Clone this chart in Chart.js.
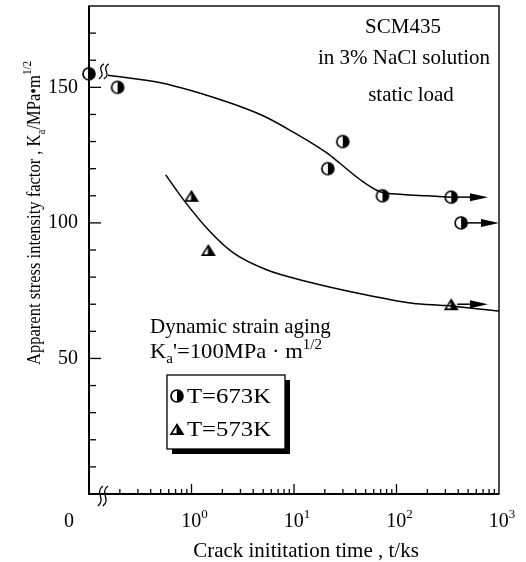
<!DOCTYPE html>
<html>
<head>
<meta charset="utf-8">
<script src="https://cdn.jsdelivr.net/npm/chart.js@4.4.0/dist/chart.umd.min.js"></script>
<style>
html, body { margin: 0; padding: 0; background: #fff; }
#wrap { width: 526px; height: 562px; }
</style>
</head>
<body>
<div id="wrap"><canvas id="myChart" width="526" height="562"></canvas></div>
<script>
// T=673K data (the t=0 point sits on the left axis, drawn at 0.1)
const t673 = [0.1, 0.19, 21.4, 29.9, 73, 342, 427];
const ka673 = [155, 150, 120, 130, 110, 109.5, 100];
// T=573K data
const t573 = [1.0, 1.46, 342];
const ka573 = [110, 90, 70];
// run-out arrows: from t, to t, at Ka
const arrowFrom = [342, 427, 342];
const arrowTo = [780, 1000, 780];
const arrowKa = [109.5, 100, 70];

// fitted curves
const fit673T = [0.153, 0.5, 2.24, 5, 9.8, 20.9, 28, 44, 68, 115, 200, 342];
const fit673K = [154.5, 151.7, 144.6, 139.5, 133.5, 125.8, 122, 116, 111.6, 110.5, 110, 109.5];
const fit573T = [0.56, 0.84, 1.53, 2.56, 5.47, 13, 47, 143, 300, 1000];
const fit573K = [117.7, 108.4, 96.6, 88.9, 82.6, 78.5, 73.7, 70.4, 69.5, 67.5];

// axis ticks
const xMajor = [1, 10, 100, 1000];
const xExp = ['0', '1', '2', '3'];
const yMajor = [50, 100, 150];

const FONT = '"Liberation Serif", "Times New Roman", serif';

function pairs(xs, ys) {
  return xs.map((x, i) => ({x: x, y: ys[i]}));
}

// half filled circle marker
function makeCircle() {
  const c = document.createElement('canvas');
  c.width = 16; c.height = 16;
  const g = c.getContext('2d');
  g.beginPath(); g.arc(8, 8, 6, 0, 2 * Math.PI);
  g.fillStyle = '#fff'; g.fill();
  g.beginPath(); g.arc(8, 8, 6, -Math.PI / 2, Math.PI / 2); g.closePath();
  g.fillStyle = '#000'; g.fill();
  g.beginPath(); g.arc(8, 8, 6, 0, 2 * Math.PI);
  g.lineWidth = 1.7; g.strokeStyle = '#000'; g.stroke();
  return c;
}

// half filled triangle marker
function makeTriangle() {
  const c = document.createElement('canvas');
  c.width = 18; c.height = 14;
  const g = c.getContext('2d');
  g.beginPath(); g.moveTo(9, 1); g.lineTo(16.5, 13); g.lineTo(1.5, 13); g.closePath();
  g.fillStyle = '#000'; g.fill();
  g.beginPath(); g.moveTo(8.5, 4.8); g.lineTo(8.5, 11.2); g.lineTo(4.5, 11.2); g.closePath();
  g.fillStyle = '#fff'; g.fill();
  return c;
}

const circleImg = makeCircle();
const triImg = makeTriangle();

// text with sub/superscripts: parts = [[text, kind]], kind '', 'sub', 'sup'
function richWidth(ctx, parts, size) {
  const small = Math.round(size * 0.66);
  let total = 0;
  parts.forEach(p => {
    ctx.font = (p[1] ? small : size) + 'px ' + FONT;
    total += ctx.measureText(p[0]).width;
  });
  return total;
}

function rich(ctx, parts, x, y, align, size) {
  const small = Math.round(size * 0.66);
  const total = richWidth(ctx, parts, size);
  let cx = align === 'center' ? x - total / 2 : (align === 'right' ? x - total : x);
  ctx.textAlign = 'left';
  parts.forEach(p => {
    ctx.font = (p[1] ? small : size) + 'px ' + FONT;
    let dy = 0;
    if (p[1] === 'sub') dy = size * 0.25;
    if (p[1] === 'sup') dy = -size * 0.45;
    ctx.fillText(p[0], cx, y + dy);
    cx += ctx.measureText(p[0]).width;
  });
}

// rich text squeezed/stretched to a given width
function richFit(ctx, parts, x, y, align, size, width) {
  const total = richWidth(ctx, parts, size);
  ctx.save();
  ctx.translate(x, y);
  ctx.scale(width / total, 1);
  rich(ctx, parts, 0, 0, align, size);
  ctx.restore();
}

function wiggle(ctx, x, y, h) {
  ctx.beginPath();
  ctx.moveTo(x + 2.5, y - h / 2);
  ctx.bezierCurveTo(x - 6, y - h / 6, x + 6, y + h / 6, x - 2.5, y + h / 2);
  ctx.stroke();
}

const decor = {
  id: 'decor',
  afterDatasetsDraw(chart) {
    const ctx = chart.ctx;
    const a = chart.chartArea;
    const xs = chart.scales.x, ys = chart.scales.y;
    ctx.save();
    ctx.strokeStyle = '#000';
    ctx.fillStyle = '#000';

    // frame
    ctx.lineWidth = 1.4;
    ctx.strokeRect(a.left, a.top, a.right - a.left, a.bottom - a.top);
    ctx.lineWidth = 2;
    ctx.beginPath();
    ctx.moveTo(a.left, a.top); ctx.lineTo(a.left, a.bottom); ctx.lineTo(a.right, a.bottom);
    ctx.stroke();

    // y ticks (inside)
    ctx.lineWidth = 1.3;
    for (let v = 10; v < 180; v += 10) {
      const py = ys.getPixelForValue(v);
      const len = yMajor.includes(v) ? 12 : 7;
      ctx.beginPath(); ctx.moveTo(a.left, py); ctx.lineTo(a.left + len, py); ctx.stroke();
    }
    // x ticks (inside)
    for (let k = -1; k <= 2; k++) {
      for (let m = 1; m <= 9; m++) {
        const v = m * Math.pow(10, k);
        if (v <= 0.1) continue;
        const px = xs.getPixelForValue(v);
        const len = m === 1 ? 10 : 5;
        ctx.beginPath(); ctx.moveTo(px, a.bottom); ctx.lineTo(px, a.bottom - len); ctx.stroke();
      }
    }

    // tick labels
    ctx.textBaseline = 'middle';
    ctx.textAlign = 'right';
    ctx.font = '20px ' + FONT;
    yMajor.forEach(v => ctx.fillText(String(v), 78, ys.getPixelForValue(v)));
    ctx.textBaseline = 'alphabetic';
    ctx.textAlign = 'center';
    ctx.fillText('0', 69, a.bottom + 33);
    xMajor.forEach((v, i) => {
      rich(ctx, [['10', ''], [xExp[i], 'sup']], xs.getPixelForValue(v) + 3, a.bottom + 33, 'center', 20);
    });

    // axis titles
    rich(ctx, [['Crack inititation time , t/ks', '']], 306, a.bottom + 63, 'center', 21);
    ctx.save();
    ctx.translate(40, 213);
    ctx.rotate(-Math.PI / 2);
    richFit(ctx, [['Apparent stress intensity factor , K', ''], ['a', 'sub'], ['/MPa\u2022m', ''], ['1/2', 'sup']], 0, 0, 'center', 19.5, 304);
    ctx.restore();

    // axis breaks
    ctx.lineWidth = 1.3;
    const bx = xs.getPixelForValue(0.135);
    wiggle(ctx, bx - 2, a.bottom + 2, 20);
    wiggle(ctx, bx + 3, a.bottom + 2, 20);
    const by = ys.getPixelForValue(154.8);
    wiggle(ctx, bx - 1, by - 3, 15);
    wiggle(ctx, bx + 4, by - 3, 15);

    // run-out arrows
    ctx.lineWidth = 1.5;
    arrowFrom.forEach((t0, i) => {
      const x0 = xs.getPixelForValue(t0) + 6;
      const x1 = xs.getPixelForValue(arrowTo[i]);
      const py = ys.getPixelForValue(arrowKa[i]);
      ctx.beginPath(); ctx.moveTo(x0, py); ctx.lineTo(x1 - 16, py); ctx.stroke();
      ctx.beginPath(); ctx.moveTo(x1, py); ctx.lineTo(x1 - 18, py - 4); ctx.lineTo(x1 - 18, py + 4); ctx.closePath(); ctx.fill();
    });

    // annotations
    rich(ctx, [['SCM435', '']], 403, 33, 'center', 21);
    rich(ctx, [['in 3% NaCl solution', '']], 404, 64, 'center', 21);
    rich(ctx, [['static load', '']], 411, 101, 'center', 21);
    rich(ctx, [['Dynamic strain aging', '']], 150, 333, 'left', 21);
    richFit(ctx, [['K', ''], ['a', 'sub'], ['\'=100MPa \u00b7 m', ''], ['1/2', 'sup']], 150, 358, 'left', 21, 172);

    // legend box with shadow
    ctx.fillStyle = '#000';
    ctx.fillRect(172, 380, 118, 74);
    ctx.fillStyle = '#fff';
    ctx.fillRect(167, 375, 118, 74);
    ctx.lineWidth = 1.3;
    ctx.strokeRect(167, 375, 118, 74);
    ctx.drawImage(circleImg, 177 - 8, 396 - 8);
    ctx.drawImage(triImg, 177 - 9, 429 - 7);
    ctx.fillStyle = '#000';
    richFit(ctx, [['T=673K', '']], 187, 403, 'left', 21, 84);
    richFit(ctx, [['T=573K', '']], 187, 436, 'left', 21, 84);
    ctx.restore();
  }
};

const chart = new Chart(document.getElementById('myChart'), {
  type: 'scatter',
  data: {
    datasets: [{
      type: 'line',
      data: pairs(fit673T, fit673K),
      borderColor: '#000',
      borderWidth: 1.5,
      pointRadius: 0,
      cubicInterpolationMode: 'monotone'
    }, {
      type: 'line',
      data: pairs(fit573T, fit573K),
      borderColor: '#000',
      borderWidth: 1.5,
      pointRadius: 0,
      cubicInterpolationMode: 'monotone'
    }, {
      label: 'T=673K',
      data: pairs(t673, ka673),
      pointStyle: circleImg,
      clip: false
    }, {
      label: 'T=573K',
      data: pairs(t573, ka573),
      pointStyle: triImg,
      clip: false
    }]
  },
  options: {
    responsive: false,
    animation: false,
    layout: { padding: { left: 89, top: 6, right: 27, bottom: 68 } },
    plugins: { legend: { display: false }, tooltip: { enabled: false } },
    scales: {
      x: { type: 'logarithmic', min: 0.1, max: 1000, display: false },
      y: { type: 'linear', min: 0, max: 180, display: false }
    }
  },
  plugins: [decor]
});
</script>
</body>
</html>
